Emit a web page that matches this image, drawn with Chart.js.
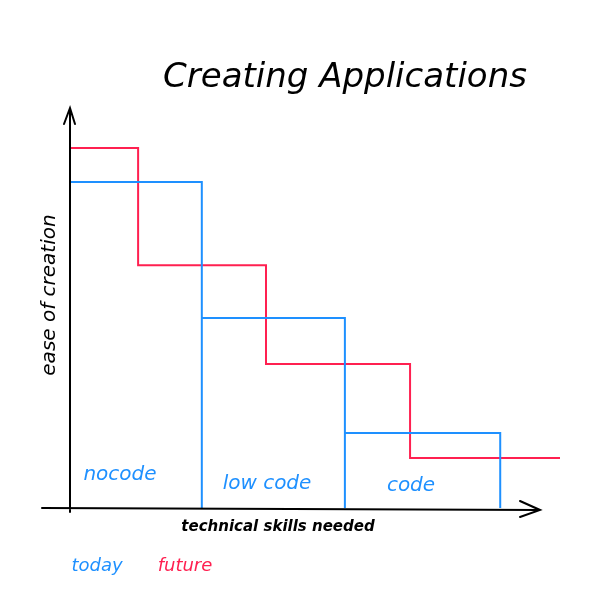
<!DOCTYPE html>
<html>
<head>
<meta charset="utf-8">
<script src="https://cdn.jsdelivr.net/npm/chart.js@4.4.0/dist/chart.umd.min.js"></script>
<style>
  html, body { margin: 0; padding: 0; background: #fff; }
  #wrap { width: 609px; height: 605px; position: relative; }
</style>
</head>
<body>
<div id="wrap"><canvas id="chart"></canvas></div>
<script>
// Categories (segments along the skills axis)
const categories = ['nocode', 'low code', 'code'];
// Today: bar edges and heights
const todayEdges = [0, 2.69, 5.61, 8.78];
const todayLevels = [8.15, 4.75, 1.875];
// Future: step breakpoints and levels
const futureEdges = [0, 1.39, 4.0, 6.94, 10];
const futureLevels = [9.0, 6.07, 3.6, 1.25];

const BLUE = '#1e90ff';
const RED = '#ff2050';

// build today outline: top of each bar, then drop to zero at right edge
const todayPoints = [];
todayLevels.forEach(function(v, i) {
    todayPoints.push({ x: todayEdges[i], y: v });
    todayPoints.push({ x: todayEdges[i + 1], y: v });
    todayPoints.push({ x: todayEdges[i + 1], y: 0 });
});

// build future staircase
const futurePoints = [];
futureLevels.forEach(function(v, i) {
    futurePoints.push({ x: futureEdges[i], y: v });
    futurePoints.push({ x: futureEdges[i + 1], y: v });
});

// Axes, arrows and hand labels
const sketchPlugin = {
    id: 'sketch',
    afterDraw(chart) {
        const ctx = chart.ctx;
        const xs = chart.scales.x, ys = chart.scales.y;
        const x0 = xs.getPixelForValue(0), y0 = ys.getPixelForValue(0);
        ctx.save();
        ctx.strokeStyle = '#000';
        ctx.lineWidth = 2;
        ctx.lineCap = 'round';
        ctx.beginPath();
        ctx.moveTo(x0, y0 + 4); ctx.lineTo(x0, ys.top);
        ctx.moveTo(x0 - 6, ys.top + 16); ctx.lineTo(x0, ys.top); ctx.lineTo(x0 + 5, ys.top + 16);
        ctx.moveTo(42, y0); ctx.lineTo(540, y0 + 2);
        ctx.moveTo(520, y0 - 7); ctx.lineTo(540, y0 + 2); ctx.lineTo(520, y0 + 9);
        ctx.stroke();

        ctx.textAlign = 'center';
        ctx.textBaseline = 'middle';
        ctx.fillStyle = '#000';
        ctx.font = 'italic 34px "DejaVu Sans"';
        ctx.fillText('Creating Applications', 345, 78);
        ctx.font = 'italic bold 15px "DejaVu Sans"';
        ctx.fillText('technical skills needed', 278, 527);
        ctx.save();
        ctx.translate(50, 295);
        ctx.rotate(-Math.PI / 2);
        ctx.font = 'italic 20px "DejaVu Sans"';
        ctx.fillText('ease of creation', 0, 0);
        ctx.restore();

        ctx.fillStyle = BLUE;
        ctx.font = 'italic 20px "DejaVu Sans"';
        const labelPos = [[120, 475], [267, 484], [411, 486]];
        categories.forEach(function(c, i) {
            ctx.fillText(c, labelPos[i][0], labelPos[i][1]);
        });
        ctx.font = 'italic 18px "DejaVu Sans"';
        ctx.fillText('today', 97, 566);
        ctx.fillStyle = RED;
        ctx.fillText('future', 185, 566);
        ctx.restore();
    }
};

const ctx = document.getElementById('chart').getContext('2d');
new Chart(ctx, {
    type: 'line',
    data: {
        datasets: [{
            label: 'today',
            data: todayPoints,
            borderColor: BLUE,
            borderWidth: 2,
            pointRadius: 0,
            tension: 0
        }, {
            label: 'future',
            data: futurePoints,
            borderColor: RED,
            borderWidth: 2,
            pointRadius: 0,
            tension: 0
        }]
    },
    options: {
        responsive: true,
        maintainAspectRatio: false,
        animation: false,
        layout: { padding: { left: 70, right: 49, top: 108, bottom: 97 } },
        plugins: { legend: { display: false }, tooltip: { enabled: false } },
        scales: {
            x: { type: 'linear', min: 0, max: 10, display: false },
            y: { min: 0, max: 10, display: false }
        }
    },
    plugins: [sketchPlugin]
});
</script>
</body>
</html>
